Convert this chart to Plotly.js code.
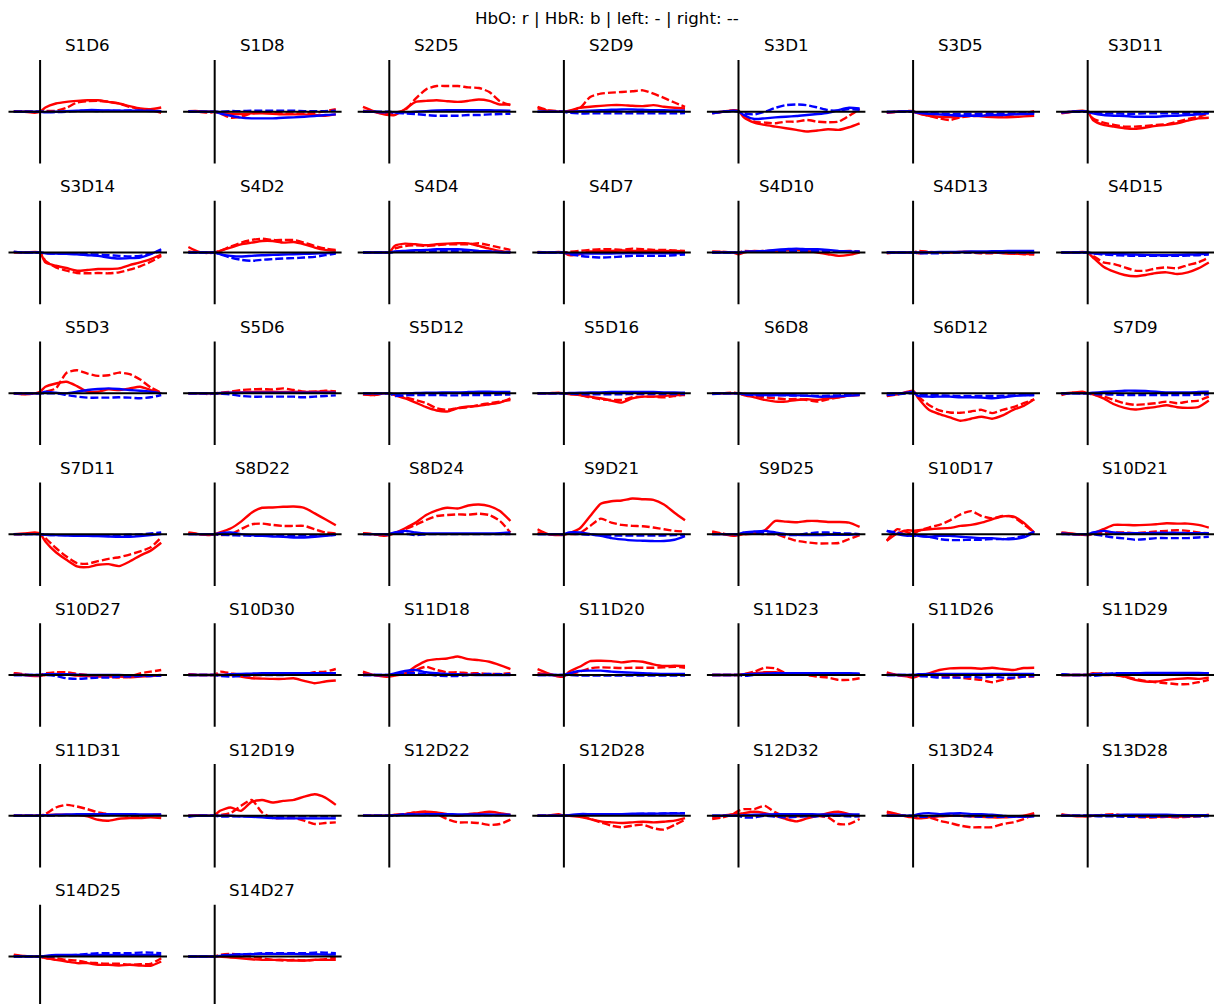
<!DOCTYPE html>
<html>
<head>
<meta charset="utf-8">
<script src="https://cdn.plot.ly/plotly-3.0.1.min.js"></script>
<style>html,body{margin:0;padding:0;background:#fff;}#chart{width:1214px;height:1004px;}</style>
</head>
<body>
<div id="chart"></div>
<script>
// time points (s) relative to stimulus onset
const times = [-5,-3,-1,0,1,3,5,7,9,11,13,15,17,19,21,23];

const channels = ['S1D6','S1D8','S2D5','S2D9','S3D1','S3D5','S3D11',
  'S3D14','S4D2','S4D4','S4D7','S4D10','S4D13','S4D15',
  'S5D3','S5D6','S5D12','S5D16','S6D8','S6D12','S7D9',
  'S7D11','S8D22','S8D24','S9D21','S9D25','S10D17','S10D21',
  'S10D27','S10D30','S11D18','S11D20','S11D23','S11D26','S11D29',
  'S11D31','S12D19','S12D22','S12D28','S12D32','S13D24','S13D28',
  'S14D25','S14D27'];

// HbO, left condition (red solid)
const hboLeft = [
[0.02,0.0,-0.03,0.0,0.13,0.25,0.30,0.33,0.35,0.35,0.30,0.25,0.17,0.10,0.08,0.13],
[0.02,0.02,0.0,0.0,-0.03,-0.06,-0.07,-0.05,-0.05,-0.06,-0.08,-0.08,-0.08,-0.1,-0.12,-0.08],
[0.15,0.02,-0.08,-0.1,-0.1,0.08,0.3,0.33,0.35,0.32,0.3,0.33,0.37,0.33,0.22,0.22],
[0.1,0.03,0.0,0.0,0.03,0.12,0.15,0.18,0.2,0.2,0.18,0.17,0.2,0.15,0.12,0.1],
[-0.05,0.0,0.05,0.03,-0.17,-0.33,-0.4,-0.45,-0.5,-0.55,-0.6,-0.57,-0.53,-0.55,-0.47,-0.35],
[-0.02,0.0,0.02,0.02,-0.05,-0.12,-0.15,-0.16,-0.14,-0.12,-0.14,-0.16,-0.17,-0.16,-0.14,-0.12],
[-0.05,0.0,0.03,0.0,-0.25,-0.4,-0.45,-0.5,-0.52,-0.48,-0.43,-0.4,-0.35,-0.27,-0.2,-0.18],
[0.02,0.0,0.02,0.0,-0.3,-0.4,-0.47,-0.55,-0.53,-0.5,-0.5,-0.48,-0.38,-0.3,-0.2,-0.06],
[0.17,0.02,0.0,0.0,0.05,0.15,0.25,0.3,0.35,0.35,0.3,0.32,0.25,0.15,0.08,0.05],
[0.0,0.0,0.0,0.0,0.2,0.27,0.25,0.22,0.25,0.27,0.28,0.28,0.2,0.12,0.05,0.0],
[0.0,0.0,0.02,0.0,-0.08,-0.05,0.03,0.05,0.05,0.06,0.05,0.05,0.05,0.04,0.05,0.04],
[0.0,0.02,0.0,-0.05,0.0,0.05,0.03,0.05,0.07,0.08,0.05,0.0,-0.05,-0.1,-0.07,0.0],
[0.0,0.0,0.0,0.0,-0.02,0.0,0.0,0.0,0.02,0.02,0.0,0.0,-0.02,-0.03,-0.04,-0.05],
[0.0,0.0,0.02,0.0,-0.15,-0.43,-0.58,-0.68,-0.72,-0.68,-0.62,-0.6,-0.65,-0.6,-0.48,-0.3],
[0.0,-0.03,0.0,0.05,0.2,0.3,0.35,0.22,0.05,0.05,0.12,0.1,0.15,0.2,0.1,0.0],
[0.0,0.0,0.0,0.0,0.0,0.02,0.03,0.04,0.05,0.05,0.04,0.05,0.04,0.05,0.05,0.05],
[-0.03,-0.05,0.0,0.0,-0.05,-0.15,-0.28,-0.42,-0.52,-0.55,-0.45,-0.4,-0.38,-0.33,-0.28,-0.15],
[0.0,0.0,0.02,0.0,-0.02,-0.05,-0.1,-0.15,-0.22,-0.28,-0.15,-0.1,-0.1,-0.08,-0.05,-0.05],
[0.0,0.0,0.0,0.0,-0.05,-0.12,-0.2,-0.25,-0.25,-0.2,-0.18,-0.2,-0.15,-0.12,-0.07,-0.05],
[-0.05,-0.03,0.05,0.08,-0.15,-0.5,-0.63,-0.73,-0.83,-0.77,-0.71,-0.77,-0.67,-0.5,-0.38,-0.18],
[0.0,0.02,0.05,0.0,-0.03,-0.15,-0.33,-0.44,-0.49,-0.45,-0.41,-0.36,-0.42,-0.44,-0.42,-0.22],
[0.0,0.02,0.05,0.02,-0.22,-0.55,-0.78,-0.98,-1.0,-0.93,-0.91,-0.97,-0.83,-0.65,-0.5,-0.26],
[0.05,0.0,-0.03,0.0,0.05,0.17,0.38,0.65,0.8,0.81,0.83,0.84,0.8,0.63,0.45,0.27],
[0.02,0.0,-0.05,-0.03,0.03,0.18,0.35,0.58,0.72,0.8,0.78,0.87,0.9,0.85,0.7,0.4],
[0.15,0.0,-0.03,-0.02,0.03,0.17,0.55,0.92,1.0,1.02,1.08,1.06,1.04,0.9,0.65,0.42],
[0.05,0.0,-0.05,-0.03,0.0,0.02,0.12,0.4,0.38,0.36,0.4,0.4,0.37,0.37,0.35,0.22],
[-0.2,0.02,0.12,0.1,0.12,0.15,0.17,0.19,0.25,0.28,0.35,0.45,0.54,0.54,0.35,0.05],
[0.05,0.02,-0.02,-0.03,0.02,0.15,0.28,0.28,0.27,0.28,0.3,0.33,0.32,0.32,0.28,0.2],
[0.05,0.0,-0.03,-0.03,0.0,0.03,0.02,-0.02,-0.03,-0.05,-0.05,-0.05,-0.07,-0.05,-0.03,-0.02],
[0.0,0.0,0.0,0.0,0.0,0.0,-0.05,-0.1,-0.11,-0.12,-0.12,-0.1,-0.18,-0.25,-0.2,-0.17],
[0.1,0.0,-0.05,-0.05,-0.02,0.05,0.26,0.43,0.48,0.5,0.56,0.48,0.45,0.4,0.3,0.18],
[0.18,0.05,-0.05,-0.05,0.1,0.25,0.42,0.43,0.42,0.38,0.42,0.4,0.32,0.27,0.28,0.27],
[0.0,0.0,0.0,0.0,0.02,0.05,0.08,0.08,0.05,0.03,0.03,0.05,0.05,0.05,0.03,0.02],
[0.08,0.0,-0.05,-0.08,-0.03,0.05,0.15,0.2,0.21,0.21,0.19,0.22,0.18,0.15,0.21,0.22],
[0.0,0.0,0.0,0.0,0.05,0.0,0.0,-0.05,-0.15,-0.2,-0.2,-0.15,-0.12,-0.1,-0.12,-0.08],
[0.0,0.0,0.0,0.0,0.02,0.03,0.03,0.02,-0.02,-0.12,-0.15,-0.09,-0.07,-0.07,-0.05,-0.07],
[0.0,0.02,0.0,0.02,0.15,0.25,0.15,0.42,0.48,0.4,0.45,0.48,0.58,0.65,0.55,0.33],
[0.0,0.0,0.0,0.0,0.03,0.05,0.1,0.12,0.1,0.05,0.0,0.05,0.08,0.12,0.08,0.03],
[0.0,0.0,0.05,0.0,0.0,-0.03,-0.1,-0.17,-0.2,-0.22,-0.2,-0.18,-0.2,-0.18,-0.15,-0.07],
[-0.05,0.0,0.05,0.05,0.08,0.12,0.08,0.0,-0.1,-0.17,-0.08,0.0,0.08,0.12,0.05,-0.02],
[0.12,0.05,-0.03,-0.05,-0.08,-0.05,-0.02,0.0,0.0,-0.02,-0.03,-0.05,-0.05,-0.03,0.0,0.08],
[0.05,0.0,-0.02,-0.02,0.0,0.02,0.02,0.0,-0.02,-0.03,-0.03,-0.03,-0.03,-0.02,0.0,0.0],
[0.06,0.02,0.0,0.0,-0.05,-0.1,-0.15,-0.2,-0.2,-0.25,-0.25,-0.27,-0.25,-0.27,-0.28,-0.15],
[0.0,0.0,0.0,0.0,0.0,-0.03,-0.05,-0.08,-0.1,-0.1,-0.1,-0.12,-0.12,-0.1,-0.1,-0.1]
];

// HbO, right condition (red dashed)
const hboRight = [
[0.0,0.02,0.0,0.0,0.02,0.03,0.12,0.28,0.32,0.33,0.3,0.25,0.15,0.08,0.05,-0.03],
[0.0,0.0,-0.03,0.0,-0.05,-0.18,-0.15,-0.05,-0.03,-0.03,-0.05,-0.05,-0.05,-0.03,0.02,0.08],
[0.03,0.0,-0.05,-0.05,-0.03,0.05,0.4,0.68,0.78,0.78,0.78,0.74,0.72,0.6,0.32,0.2],
[0.15,0.05,0.02,0.0,0.02,0.1,0.45,0.55,0.58,0.6,0.62,0.65,0.55,0.42,0.28,0.15],
[-0.03,0.0,0.03,0.02,-0.1,-0.3,-0.33,-0.35,-0.3,-0.3,-0.25,-0.3,-0.32,-0.3,-0.12,0.08],
[-0.03,0.0,0.02,0.0,-0.05,-0.12,-0.2,-0.25,-0.17,-0.13,-0.12,-0.1,-0.12,-0.08,-0.05,0.02],
[-0.03,0.0,0.02,0.0,-0.2,-0.33,-0.4,-0.45,-0.45,-0.43,-0.4,-0.38,-0.3,-0.22,-0.15,-0.05],
[0.0,0.0,0.0,0.0,-0.25,-0.45,-0.55,-0.62,-0.63,-0.62,-0.63,-0.6,-0.52,-0.42,-0.28,-0.1],
[0.03,0.0,-0.02,0.0,0.05,0.18,0.3,0.38,0.42,0.38,0.38,0.38,0.3,0.2,0.12,0.08],
[0.0,0.0,0.0,0.0,0.12,0.2,0.22,0.2,0.22,0.25,0.25,0.25,0.28,0.22,0.15,0.08],
[0.02,0.0,0.0,0.0,0.02,0.05,0.08,0.1,0.1,0.08,0.12,0.1,0.08,0.08,0.06,0.05],
[0.03,0.02,0.0,0.0,0.05,0.03,0.05,0.05,0.05,0.08,0.05,0.05,0.05,0.03,0.05,0.03],
[-0.02,0.0,0.0,0.0,0.05,0.02,0.0,0.0,0.02,0.0,-0.02,-0.02,0.0,-0.03,-0.05,-0.05],
[0.0,0.0,0.0,0.0,-0.1,-0.3,-0.35,-0.45,-0.55,-0.55,-0.48,-0.45,-0.48,-0.38,-0.3,-0.15],
[0.0,-0.02,0.0,0.0,0.05,0.15,0.62,0.7,0.6,0.53,0.55,0.63,0.58,0.42,0.18,0.02],
[0.0,0.0,-0.02,0.0,0.02,0.05,0.1,0.12,0.13,0.12,0.15,0.1,0.05,0.05,0.08,0.06],
[-0.03,-0.05,0.0,0.0,-0.05,-0.12,-0.2,-0.3,-0.45,-0.5,-0.45,-0.42,-0.35,-0.3,-0.25,-0.2],
[0.0,0.0,0.0,0.0,-0.02,-0.05,-0.12,-0.18,-0.2,-0.2,-0.12,-0.1,-0.1,-0.12,-0.08,-0.03],
[0.0,0.0,0.02,0.0,-0.03,-0.08,-0.12,-0.15,-0.18,-0.17,-0.2,-0.25,-0.18,-0.12,-0.06,-0.03],
[-0.08,-0.03,0.03,0.05,-0.1,-0.35,-0.52,-0.58,-0.59,-0.55,-0.5,-0.6,-0.5,-0.42,-0.3,-0.18],
[-0.05,0.02,0.0,0.0,-0.03,-0.1,-0.2,-0.3,-0.35,-0.33,-0.3,-0.25,-0.3,-0.25,-0.22,-0.1],
[0.0,0.0,0.03,0.0,-0.12,-0.42,-0.68,-0.88,-0.9,-0.82,-0.75,-0.7,-0.62,-0.52,-0.4,-0.1],
[0.03,0.0,-0.02,0.0,-0.03,0.0,0.15,0.3,0.32,0.28,0.25,0.25,0.25,0.15,0.05,0.02],
[0.03,0.0,-0.03,0.0,0.02,0.15,0.28,0.43,0.55,0.58,0.6,0.59,0.62,0.58,0.4,0.05],
[0.05,0.0,-0.02,0.0,0.0,0.03,0.25,0.47,0.35,0.28,0.25,0.24,0.2,0.15,0.1,0.08],
[0.08,0.02,-0.03,0.0,0.0,0.02,0.0,0.0,-0.1,-0.2,-0.25,-0.28,-0.28,-0.27,-0.15,-0.03],
[-0.2,0.15,0.05,0.0,0.1,0.2,0.28,0.42,0.6,0.7,0.55,0.48,0.55,0.52,0.3,0.05],
[0.03,0.0,-0.02,0.0,0.0,0.05,0.05,0.05,0.03,0.05,0.08,0.1,0.12,0.1,0.05,0.03],
[0.05,0.02,-0.03,0.0,0.05,0.08,0.08,0.03,0.0,-0.03,-0.05,-0.08,-0.05,0.05,0.1,0.15],
[0.02,0.0,0.0,0.0,0.1,0.05,0.0,-0.02,0.0,0.02,0.03,0.02,0.03,0.08,0.1,0.18],
[0.05,0.0,-0.03,0.0,0.0,0.03,0.15,0.25,0.15,0.08,0.08,0.05,0.05,0.03,0.03,0.05],
[0.05,0.02,-0.02,0.0,0.02,0.1,0.2,0.23,0.22,0.21,0.22,0.22,0.22,0.23,0.25,0.22],
[0.0,0.0,0.0,0.0,0.02,0.1,0.22,0.2,0.05,0.03,0.0,-0.05,-0.08,-0.15,-0.15,-0.1],
[0.03,0.0,-0.02,0.0,-0.02,0.0,-0.03,-0.05,-0.08,-0.12,-0.15,-0.22,-0.15,-0.1,-0.05,-0.05],
[0.0,0.0,0.0,0.0,0.02,0.05,0.0,-0.05,-0.12,-0.18,-0.22,-0.25,-0.28,-0.28,-0.22,-0.15],
[0.0,0.0,0.0,0.0,0.05,0.25,0.33,0.28,0.2,0.1,0.05,0.02,0.0,0.0,0.02,0.03],
[0.0,0.0,0.0,0.0,0.02,0.08,0.3,0.48,0.1,-0.07,-0.07,-0.07,-0.15,-0.25,-0.22,-0.2],
[0.0,0.0,0.0,0.0,0.02,0.05,0.1,0.12,0.05,-0.1,-0.2,-0.2,-0.22,-0.28,-0.25,-0.12],
[0.0,0.0,0.02,0.0,0.02,0.0,-0.1,-0.2,-0.3,-0.35,-0.3,-0.27,-0.38,-0.42,-0.28,-0.12],
[-0.1,-0.05,0.05,0.15,0.2,0.2,0.3,0.1,-0.02,-0.02,0.0,0.0,-0.05,-0.25,-0.25,-0.1],
[0.05,0.02,0.0,-0.03,-0.05,-0.05,-0.15,-0.22,-0.3,-0.35,-0.35,-0.35,-0.25,-0.2,-0.1,0.05],
[0.02,0.0,0.0,0.0,0.0,0.03,0.05,0.0,-0.03,-0.05,-0.05,-0.03,-0.05,-0.03,-0.02,0.03],
[0.03,0.0,0.0,0.0,-0.05,-0.05,-0.1,-0.12,-0.18,-0.2,-0.22,-0.22,-0.25,-0.23,-0.22,-0.05],
[0.0,0.0,0.0,0.0,0.05,0.08,0.05,0.0,-0.05,-0.1,-0.12,-0.1,-0.12,-0.1,-0.08,-0.03]
];

// HbR, left condition (blue solid)
const hbrLeft = [
[0.0,0.0,0.0,0.0,-0.02,0.0,0.02,0.03,0.05,0.05,0.04,0.03,0.03,0.03,0.02,0.02],
[0.02,0.0,0.0,0.0,-0.05,-0.12,-0.18,-0.2,-0.2,-0.2,-0.18,-0.17,-0.15,-0.13,-0.1,-0.08],
[0.0,0.0,-0.02,0.0,-0.02,-0.02,0.0,0.02,0.04,0.05,0.05,0.05,0.05,0.05,0.04,0.03],
[0.0,0.0,0.0,0.0,0.0,0.02,0.03,0.05,0.06,0.07,0.07,0.06,0.05,0.05,0.04,0.03],
[-0.03,0.0,0.03,0.02,-0.1,-0.22,-0.2,-0.17,-0.15,-0.13,-0.1,-0.07,-0.03,0.05,0.12,0.1],
[0.0,0.0,0.02,0.0,-0.03,-0.06,-0.08,-0.1,-0.12,-0.12,-0.12,-0.1,-0.1,-0.08,-0.07,-0.06],
[-0.02,0.0,0.02,0.0,-0.05,-0.1,-0.12,-0.13,-0.15,-0.15,-0.15,-0.13,-0.12,-0.1,-0.08,-0.05],
[0.02,0.0,0.0,0.0,-0.02,-0.03,-0.04,-0.05,-0.08,-0.1,-0.15,-0.18,-0.17,-0.15,-0.05,0.1],
[0.0,0.0,0.0,0.0,-0.05,-0.1,-0.12,-0.1,-0.08,-0.07,-0.06,-0.05,-0.04,-0.03,-0.02,-0.01],
[0.0,0.0,0.0,0.0,0.03,0.05,0.07,0.08,0.1,0.1,0.1,0.08,0.05,0.03,0.01,0.0],
[0.0,0.0,0.0,0.0,-0.02,-0.03,-0.03,-0.03,-0.03,-0.02,-0.02,-0.02,-0.02,-0.02,-0.02,-0.02],
[0.0,0.0,0.0,0.0,0.02,0.03,0.05,0.08,0.1,0.12,0.1,0.1,0.08,0.05,0.03,0.02],
[0.0,0.0,0.0,0.0,0.0,0.01,0.02,0.02,0.02,0.03,0.03,0.04,0.04,0.05,0.05,0.05],
[0.0,0.0,0.0,0.0,-0.02,-0.03,-0.04,-0.05,-0.06,-0.07,-0.08,-0.08,-0.07,-0.06,-0.05,-0.03],
[0.0,0.0,0.0,0.0,0.05,0.02,0.0,0.05,0.1,0.13,0.15,0.13,0.1,0.08,0.05,0.0],
[0.0,0.0,0.0,0.0,0.01,0.02,0.02,0.02,0.02,0.02,0.02,0.02,0.02,0.02,0.02,0.02],
[0.0,0.0,0.0,0.0,-0.02,0.0,0.01,0.02,0.02,0.03,0.03,0.04,0.05,0.05,0.04,0.04],
[0.0,0.0,0.0,0.0,0.01,0.02,0.03,0.03,0.04,0.04,0.04,0.04,0.04,0.03,0.03,0.02],
[0.0,0.0,0.0,0.0,-0.02,-0.04,-0.05,-0.05,-0.05,-0.06,-0.07,-0.1,-0.1,-0.09,-0.07,-0.05],
[0.0,0.0,0.03,0.05,-0.08,-0.1,-0.1,-0.1,-0.12,-0.12,-0.13,-0.15,-0.12,-0.08,-0.06,-0.05],
[0.0,0.0,0.0,0.0,0.02,0.04,0.06,0.08,0.08,0.07,0.05,0.03,0.03,0.03,0.04,0.05],
[0.0,0.0,0.0,0.0,-0.02,-0.03,-0.04,-0.05,-0.05,-0.06,-0.07,-0.08,-0.08,-0.06,-0.03,0.0],
[0.0,0.0,0.0,0.0,0.03,0.05,0.0,-0.03,-0.05,-0.07,-0.08,-0.1,-0.1,-0.08,-0.05,-0.02],
[0.0,0.0,0.0,0.0,0.05,0.1,0.05,0.02,0.02,0.02,0.02,0.02,0.02,0.02,0.03,0.05],
[0.0,0.0,0.0,0.0,0.05,0.05,0.0,-0.05,-0.12,-0.16,-0.19,-0.2,-0.21,-0.21,-0.17,-0.06],
[0.0,0.0,0.0,0.0,0.05,0.08,0.1,0.05,0.0,-0.02,-0.03,-0.03,-0.02,-0.02,-0.02,0.0],
[0.1,0.0,-0.05,0.0,-0.05,-0.08,-0.05,-0.05,-0.08,-0.1,-0.12,-0.12,-0.15,-0.15,-0.1,0.05],
[0.02,0.0,0.0,0.0,0.05,0.1,0.05,0.03,0.03,0.03,0.04,0.04,0.04,0.03,0.03,0.03],
[0.0,0.0,0.0,0.0,0.02,0.02,0.02,0.01,0.0,0.0,0.0,0.0,-0.01,-0.01,-0.01,0.0],
[0.0,0.0,0.0,0.0,0.0,0.02,0.03,0.04,0.05,0.05,0.05,0.05,0.05,0.05,0.05,0.05],
[0.0,0.0,0.0,0.0,0.05,0.12,0.15,0.08,0.05,0.03,0.02,0.01,0.0,0.0,0.0,0.0],
[0.0,0.0,0.0,0.0,0.05,0.12,0.13,0.13,0.1,0.08,0.07,0.05,0.04,0.03,0.03,0.03],
[0.0,0.0,0.0,0.0,0.02,0.03,0.04,0.05,0.05,0.05,0.05,0.05,0.05,0.05,0.05,0.04],
[0.0,0.0,0.0,0.0,0.02,0.03,0.03,0.03,0.03,0.03,0.03,0.03,0.03,0.03,0.03,0.03],
[0.0,0.0,0.0,0.0,0.02,0.03,0.04,0.05,0.05,0.06,0.06,0.06,0.06,0.06,0.06,0.05],
[0.0,0.0,0.0,0.0,0.02,0.03,0.04,0.05,0.05,0.05,0.05,0.05,0.05,0.04,0.04,0.04],
[0.0,0.0,0.0,0.0,0.0,0.0,-0.02,-0.03,-0.05,-0.07,-0.08,-0.08,-0.08,-0.08,-0.08,-0.08],
[0.0,0.0,0.0,0.0,0.02,0.03,0.04,0.05,0.05,0.05,0.04,0.04,0.04,0.04,0.03,0.03],
[0.0,0.0,0.0,0.0,0.02,0.05,0.05,0.05,0.05,0.05,0.06,0.06,0.06,0.07,0.07,0.07],
[0.0,0.0,0.0,0.0,0.02,0.03,0.04,0.05,0.05,0.05,0.05,0.04,0.04,0.04,0.04,0.04],
[0.0,0.0,0.0,0.0,0.05,0.08,0.05,0.07,0.08,0.05,0.05,0.03,0.0,-0.02,-0.03,0.0],
[0.0,0.0,0.0,0.0,0.01,0.02,0.02,0.03,0.03,0.03,0.03,0.03,0.02,0.02,0.02,0.02],
[0.0,0.0,0.0,0.0,0.02,0.05,0.05,0.05,0.05,0.05,0.05,0.05,0.05,0.05,0.05,0.05],
[0.0,0.0,0.0,0.0,0.02,0.05,0.06,0.07,0.08,0.08,0.08,0.08,0.07,0.07,0.06,0.06]
];

// HbR, right condition (blue dashed)
const hbrRight = [
[0.0,0.0,0.0,0.0,0.0,-0.01,0.0,0.02,0.03,0.02,0.03,0.03,0.04,0.03,0.03,0.02],
[0.0,0.0,0.0,0.0,0.0,0.02,0.02,0.03,0.03,0.03,0.03,0.03,0.02,0.02,0.02,0.03],
[0.0,0.0,0.0,0.0,-0.03,-0.05,-0.07,-0.1,-0.12,-0.12,-0.12,-0.1,-0.1,-0.08,-0.07,-0.06],
[0.0,0.0,0.0,0.0,-0.03,-0.05,-0.05,-0.05,-0.05,-0.05,-0.05,-0.05,-0.05,-0.05,-0.05,-0.04],
[-0.05,0.0,0.02,0.0,-0.05,-0.08,0.0,0.12,0.2,0.22,0.2,0.13,0.05,0.03,0.08,0.06],
[-0.02,0.0,0.0,0.0,-0.02,-0.04,-0.05,-0.06,-0.06,-0.06,-0.06,-0.05,-0.05,-0.05,-0.04,-0.03],
[-0.02,0.0,0.0,0.0,-0.03,-0.05,-0.05,-0.06,-0.06,-0.05,-0.05,-0.05,-0.05,-0.04,-0.04,-0.03],
[0.02,0.0,0.0,0.0,-0.02,-0.03,-0.03,-0.04,-0.05,-0.06,-0.08,-0.1,-0.12,-0.1,-0.03,0.05],
[0.0,0.0,0.0,0.0,-0.05,-0.15,-0.22,-0.25,-0.22,-0.2,-0.18,-0.17,-0.15,-0.13,-0.08,-0.03],
[0.0,0.0,0.0,0.0,0.02,0.03,0.04,0.05,0.05,0.05,0.05,0.04,0.04,0.03,0.02,0.02],
[0.0,0.0,0.0,0.0,-0.05,-0.1,-0.13,-0.15,-0.14,-0.12,-0.1,-0.1,-0.1,-0.1,-0.08,-0.06],
[0.0,0.0,0.0,0.0,0.02,0.03,0.04,0.05,0.05,0.05,0.05,0.04,0.04,0.03,0.03,0.03],
[0.0,0.0,0.0,0.0,-0.02,-0.02,-0.02,0.0,0.0,0.0,0.0,0.0,0.0,0.0,0.0,0.0],
[0.0,0.0,0.0,0.0,-0.03,-0.06,-0.08,-0.09,-0.1,-0.1,-0.1,-0.1,-0.1,-0.09,-0.08,-0.06],
[0.0,0.0,0.0,0.0,0.0,0.0,-0.05,-0.1,-0.13,-0.13,-0.13,-0.12,-0.13,-0.15,-0.12,-0.05],
[0.0,0.0,0.0,0.0,-0.01,-0.03,-0.08,-0.1,-0.1,-0.1,-0.1,-0.1,-0.12,-0.1,-0.08,-0.06],
[0.0,0.0,0.0,0.0,-0.08,-0.06,-0.05,-0.05,-0.05,-0.06,-0.06,-0.05,-0.05,-0.05,-0.04,-0.04],
[0.0,0.0,0.0,0.0,-0.01,-0.02,-0.03,-0.03,-0.03,-0.03,-0.02,-0.02,-0.02,-0.02,-0.02,-0.02],
[-0.02,0.0,0.0,0.0,-0.03,-0.05,-0.06,-0.06,-0.06,-0.07,-0.07,-0.08,-0.07,-0.06,-0.05,-0.04],
[-0.05,-0.03,0.0,0.0,-0.03,-0.05,-0.06,-0.07,-0.08,-0.08,-0.08,-0.08,-0.07,-0.06,-0.05,-0.05],
[0.0,0.0,0.0,0.0,-0.02,-0.03,-0.04,-0.05,-0.05,-0.05,-0.05,-0.05,-0.05,-0.05,-0.04,-0.03],
[0.0,0.0,0.0,0.0,-0.02,-0.03,-0.03,-0.03,-0.03,-0.03,-0.03,-0.03,-0.02,-0.01,0.02,0.05],
[0.0,0.0,0.0,0.0,-0.02,-0.03,-0.04,-0.05,-0.05,-0.05,-0.05,-0.05,-0.04,-0.04,-0.03,-0.02],
[0.0,0.0,0.0,0.0,0.05,0.02,-0.03,0.0,0.0,0.0,0.0,0.0,0.0,0.0,0.0,0.0],
[0.0,0.0,0.0,0.0,0.02,0.0,-0.02,-0.03,-0.04,-0.04,-0.04,-0.04,-0.04,-0.04,-0.03,-0.02],
[0.0,0.0,0.0,0.0,0.03,0.05,0.03,0.0,-0.02,-0.03,0.02,0.05,0.05,0.03,0.02,0.0],
[0.1,0.05,-0.03,-0.05,-0.05,-0.08,-0.15,-0.18,-0.18,-0.17,-0.17,-0.15,-0.15,-0.12,-0.05,0.08],
[0.0,0.0,0.0,0.0,0.0,-0.05,-0.1,-0.13,-0.17,-0.15,-0.12,-0.12,-0.12,-0.12,-0.1,-0.08],
[0.0,0.0,0.0,0.0,0.0,-0.03,-0.1,-0.12,-0.1,-0.08,-0.08,-0.05,-0.05,-0.03,-0.03,-0.02],
[0.0,0.0,0.0,0.0,-0.03,-0.05,-0.03,0.0,0.0,0.0,0.0,0.02,0.03,0.05,0.05,0.05],
[0.0,0.0,0.0,0.0,0.03,0.05,0.05,0.03,-0.02,-0.03,-0.03,0.0,0.02,0.03,0.02,0.02],
[0.0,0.0,0.0,0.0,0.0,-0.02,-0.02,-0.02,-0.02,-0.02,-0.02,-0.02,-0.02,-0.02,-0.02,-0.02],
[0.0,0.0,0.0,0.0,-0.03,0.0,0.02,0.03,0.03,0.03,0.03,0.03,0.03,0.03,0.03,0.03],
[0.0,0.0,0.0,0.0,-0.03,-0.05,-0.08,-0.08,-0.08,-0.05,-0.08,-0.05,-0.08,-0.08,-0.05,-0.03],
[0.02,0.0,0.0,0.0,-0.03,0.0,0.05,0.05,0.05,0.05,0.05,0.05,0.05,0.05,0.05,0.05],
[0.0,0.0,0.0,0.0,0.0,0.01,0.02,0.02,0.02,0.02,0.02,0.03,0.03,0.02,0.02,0.02],
[-0.03,0.0,0.0,0.0,-0.02,-0.02,-0.02,-0.02,-0.03,-0.03,-0.03,-0.02,-0.02,-0.02,-0.02,-0.02],
[0.0,0.0,0.0,0.0,0.0,0.05,0.03,0.02,0.02,0.02,0.02,0.02,0.02,0.02,0.02,0.02],
[0.0,0.0,0.0,0.0,0.0,0.03,0.03,0.04,0.05,0.05,0.05,0.06,0.06,0.07,0.08,0.08],
[0.0,0.0,0.0,0.0,-0.05,-0.05,0.0,-0.03,-0.05,-0.03,-0.02,-0.02,0.0,0.0,-0.02,-0.02],
[0.0,0.0,0.0,0.0,-0.03,-0.02,0.0,0.02,0.0,-0.02,-0.03,-0.03,-0.03,-0.03,-0.03,-0.02],
[0.0,0.0,0.0,0.0,-0.01,-0.02,-0.02,-0.03,-0.03,-0.03,-0.03,-0.02,-0.02,-0.02,-0.02,-0.01],
[0.0,0.0,0.0,0.0,0.0,0.02,0.03,0.05,0.08,0.1,0.1,0.1,0.1,0.12,0.12,0.1],
[0.0,0.0,0.0,0.0,0.03,0.05,0.07,0.08,0.1,0.1,0.1,0.1,0.1,0.12,0.12,0.1]
];

const figTitle = 'HbO: r | HbR: b | left: - | right: --';

// ---- layout geometry (pixels) ----
const W = 1214, H = 1004;
const NCOL = 7;
const left0 = 8.5, colStep = 174.6, axW = 158.5;
const top0 = 60, rowStep = 140.8, axH = 103.5;
const xRange = [-6, 24.1];
const yHalf = 1.57;
const FONT = 'DejaVu Sans, Liberation Sans, sans-serif';

const traces = [];
const layout = {
  width: W, height: H,
  margin: {l: 0, r: 0, t: 0, b: 0, pad: 0},
  paper_bgcolor: '#ffffff', plot_bgcolor: 'rgba(0,0,0,0)',
  showlegend: false,
  font: {family: FONT, color: '#000000'},
  shapes: [], annotations: []
};

const DASH = '8px,3px';
const series = [
  {data: hboLeft,  color: '#ff0000', dash: 'solid'},
  {data: hboRight, color: '#ff0000', dash: DASH},
  {data: hbrLeft,  color: '#0000ff', dash: 'solid'},
  {data: hbrRight, color: '#0000ff', dash: DASH}
];

channels.forEach((name, i) => {
  const n = i + 1;
  const sfx = n === 1 ? '' : String(n);
  const c = i % NCOL, r = Math.floor(i / NCOL);
  let x0 = left0 + c * colStep, x1 = x0 + axW;
  let xr = xRange.slice();
  if (x1 > W) { xr[1] = xRange[0] + (W - x0) / axW * (xRange[1] - xRange[0]); x1 = W; }
  let yt = top0 + r * rowStep, yb = yt + axH;
  let yr = [-yHalf, yHalf];
  if (yb > H) { yr[0] = -yHalf + (yb - H) / axH * 2 * yHalf; yb = H; }
  const common = {showgrid: false, zeroline: false, showline: false, showticklabels: false, ticks: '', fixedrange: true};
  layout['xaxis' + sfx] = Object.assign({}, common, {domain: [x0 / W, x1 / W], range: xr, anchor: 'y' + sfx});
  layout['yaxis' + sfx] = Object.assign({}, common, {domain: [1 - yb / H, 1 - yt / H], range: yr, anchor: 'x' + sfx});

  series.forEach(s => {
    traces.push({
      type: 'scatter', mode: 'lines', x: times, y: s.data[i],
      xaxis: 'x' + sfx, yaxis: 'y' + sfx,
      line: {color: s.color, width: 2.4, dash: s.dash, shape: 'spline', smoothing: 0.6},
      hoverinfo: 'skip'
    });
  });

  // reference lines at t=0 and y=0
  layout.shapes.push({type: 'line', xref: 'x' + sfx, yref: 'y' + sfx + ' domain', x0: 0, x1: 0, y0: 0, y1: 1,
    line: {color: '#000000', width: 2}, layer: 'above'});
  layout.shapes.push({type: 'line', xref: 'x' + sfx + ' domain', yref: 'y' + sfx, x0: 0, x1: 1, y0: 0, y1: 0,
    line: {color: '#000000', width: 2}, layer: 'above'});

  layout.annotations.push({
    text: name, xref: 'paper', yref: 'paper',
    x: ((left0 + c * colStep) + axW / 2) / W, y: 1 - (yt - 14) / H,
    xanchor: 'center', yanchor: 'middle', showarrow: false,
    font: {family: FONT, size: 16.67, color: '#000000'}
  });
});

layout.annotations.push({
  text: figTitle, xref: 'paper', yref: 'paper', x: 0.5, y: 1 - 18.5 / H,
  xanchor: 'center', yanchor: 'middle', showarrow: false,
  font: {family: FONT, size: 16.67, color: '#000000'}
});

Plotly.newPlot('chart', traces, layout, {staticPlot: true, displayModeBar: false});
</script>
</body>
</html>
